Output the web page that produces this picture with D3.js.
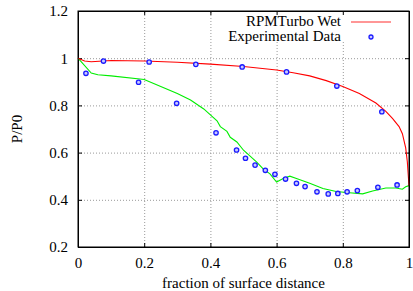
<!DOCTYPE html>
<html>
<head>
<meta charset="utf-8">
<script src="https://cdn.jsdelivr.net/npm/d3@7"></script>
<style>
body{margin:0;background:#fff;}
svg text{font-family:"Liberation Serif","Times New Roman",serif;font-size:15px;fill:#000;}
.grid line{stroke:#999;stroke-dasharray:1,2;}
.grid path{display:none;}
.axis path,.axis line{stroke:#000;}
</style>
</head>
<body>
<div id="canvas"></div>
<script>
// RPMTurbo Wet (red line)
var simX  = [0,0.02,0.04,0.1,0.2,0.3,0.4,0.5,0.6,0.65,0.7,0.75,0.8,0.85,0.9,0.93,0.95,0.97,0.98,0.99,0.995,1.0];
var simP  = [1.0,0.988,0.985,0.99,0.988,0.983,0.975,0.965,0.95,0.938,0.925,0.905,0.88,0.85,0.81,0.775,0.745,0.71,0.68,0.62,0.56,0.46];
// second simulation (green line), not in legend
var sim2X = [0,0.04,0.06,0.1,0.2,0.25,0.3,0.34,0.38,0.4,0.42,0.43,0.45,0.46,0.48,0.5,0.52,0.54,0.56,0.58,0.6,0.62,0.64,0.66,0.7,0.74,0.78,0.82,0.86,0.89,0.93,0.96,0.98,0.99,1.0];
var sim2P = [1.0,0.937,0.93,0.925,0.91,0.88,0.85,0.823,0.785,0.76,0.735,0.71,0.69,0.665,0.645,0.61,0.585,0.56,0.53,0.51,0.475,0.49,0.5,0.49,0.47,0.448,0.435,0.43,0.425,0.437,0.45,0.45,0.445,0.455,0.46];
// Experimental Data
var expX = [0.024,0.077,0.183,0.215,0.298,0.356,0.417,0.479,0.496,0.506,0.535,0.566,0.595,0.627,0.63,0.66,0.686,0.722,0.756,0.782,0.785,0.813,0.844,0.906,0.918,0.964];
var expP = [0.936,0.988,0.898,0.984,0.809,0.974,0.684,0.611,0.963,0.576,0.547,0.525,0.508,0.488,0.942,0.47,0.456,0.434,0.425,0.882,0.427,0.434,0.439,0.453,0.773,0.463];

var xTicks = [0,0.2,0.4,0.6,0.8,1];
var yTicks = [0.2,0.4,0.6,0.8,1,1.2];

var m = {t:11,r:4,b:44,l:78};
var outerWidth = 413, outerHeight = 291;
var w = outerWidth - m.l - m.r,
    h = outerHeight - m.t - m.b;

var svg = d3.select('#canvas').append('svg')
    .attr('width',outerWidth)
    .attr('height',outerHeight);
var plot = svg.append('g')
    .attr('transform','translate(' + m.l + ',' + m.t + ')');

var scaleX = d3.scaleLinear().domain([0,1]).range([0,w]);
var scaleY = d3.scaleLinear().domain([0.2,1.2]).range([h,0]);

// grid
plot.append('g').attr('class','grid')
    .attr('transform','translate(0,' + h + ')')
    .call(d3.axisBottom(scaleX).tickValues(xTicks).tickSize(-h).tickFormat(''));
plot.append('g').attr('class','grid')
    .call(d3.axisLeft(scaleY).tickValues(yTicks).tickSize(-w).tickFormat(''));

// opaque key area
plot.append('rect')
    .attr('x',150).attr('y',0)
    .attr('width',w-150).attr('height',31)
    .attr('fill','#fff');

// axes, ticks inward and mirrored
var fmt = function(d){return d3.format('~g')(d);};
plot.append('g').attr('class','axis')
    .attr('transform','translate(0,' + h + ')')
    .call(d3.axisBottom(scaleX).tickValues(xTicks).tickSize(-4).tickPadding(10).tickFormat(fmt));
plot.append('g').attr('class','axis')
    .call(d3.axisLeft(scaleY).tickValues(yTicks).tickSize(-4).tickPadding(10).tickFormat(fmt));
plot.append('g').attr('class','axis')
    .call(d3.axisTop(scaleX).tickValues(xTicks).tickSize(-4).tickFormat(''));
plot.append('g').attr('class','axis')
    .attr('transform','translate(' + w + ',0)')
    .call(d3.axisRight(scaleY).tickValues(yTicks).tickSize(-4).tickFormat(''));
svg.selectAll('.axis text').style('font-family','"Liberation Serif",serif').style('font-size','15px');

// lines
var line = d3.line()
    .x(function(d){return scaleX(d[0]);})
    .y(function(d){return scaleY(d[1]);});
plot.append('path')
    .datum(d3.zip(sim2X,sim2P))
    .attr('d',line)
    .attr('fill','none')
    .attr('stroke','#00ee00')
    .attr('stroke-width',1.1);
plot.append('path')
    .datum(d3.zip(simX,simP))
    .attr('d',line)
    .attr('fill','none')
    .attr('stroke','#ff0000')
    .attr('stroke-width',1.1);

plot.selectAll('.pt')
    .data(d3.zip(expX,expP))
    .enter()
    .append('circle')
    .attr('class','pt')
    .attr('cx',function(d){return scaleX(d[0]);})
    .attr('cy',function(d){return scaleY(d[1]);})
    .attr('r',2.2)
    .attr('fill','#c8c8ff')
    .attr('stroke','#1a1aff')
    .attr('stroke-width',1.3);

// border
plot.append('rect')
    .attr('width',w).attr('height',h)
    .attr('fill','none').attr('stroke','#000');

// legend
svg.append('text').attr('x',341).attr('y',26).attr('text-anchor','end').text('RPMTurbo Wet');
svg.append('text').attr('x',341).attr('y',41).attr('text-anchor','end').text('Experimental Data');
svg.append('line').attr('x1',351).attr('x2',391).attr('y1',22).attr('y2',22)
    .attr('stroke','#ff0000').attr('stroke-opacity',0.55).attr('stroke-width',1.6);
svg.append('circle').attr('cx',371).attr('cy',37).attr('r',2)
    .attr('fill','#c8c8ff').attr('stroke','#1a1aff').attr('stroke-width',1.3);

// axis titles
svg.append('text')
    .attr('x',m.l + w/2).attr('y',288)
    .attr('text-anchor','middle')
    .text('fraction of surface distance');
svg.append('text')
    .attr('transform','translate(22,' + (m.t + h/2) + ') rotate(-90)')
    .attr('text-anchor','middle')
    .text('P/P0');
</script>
</body>
</html>
